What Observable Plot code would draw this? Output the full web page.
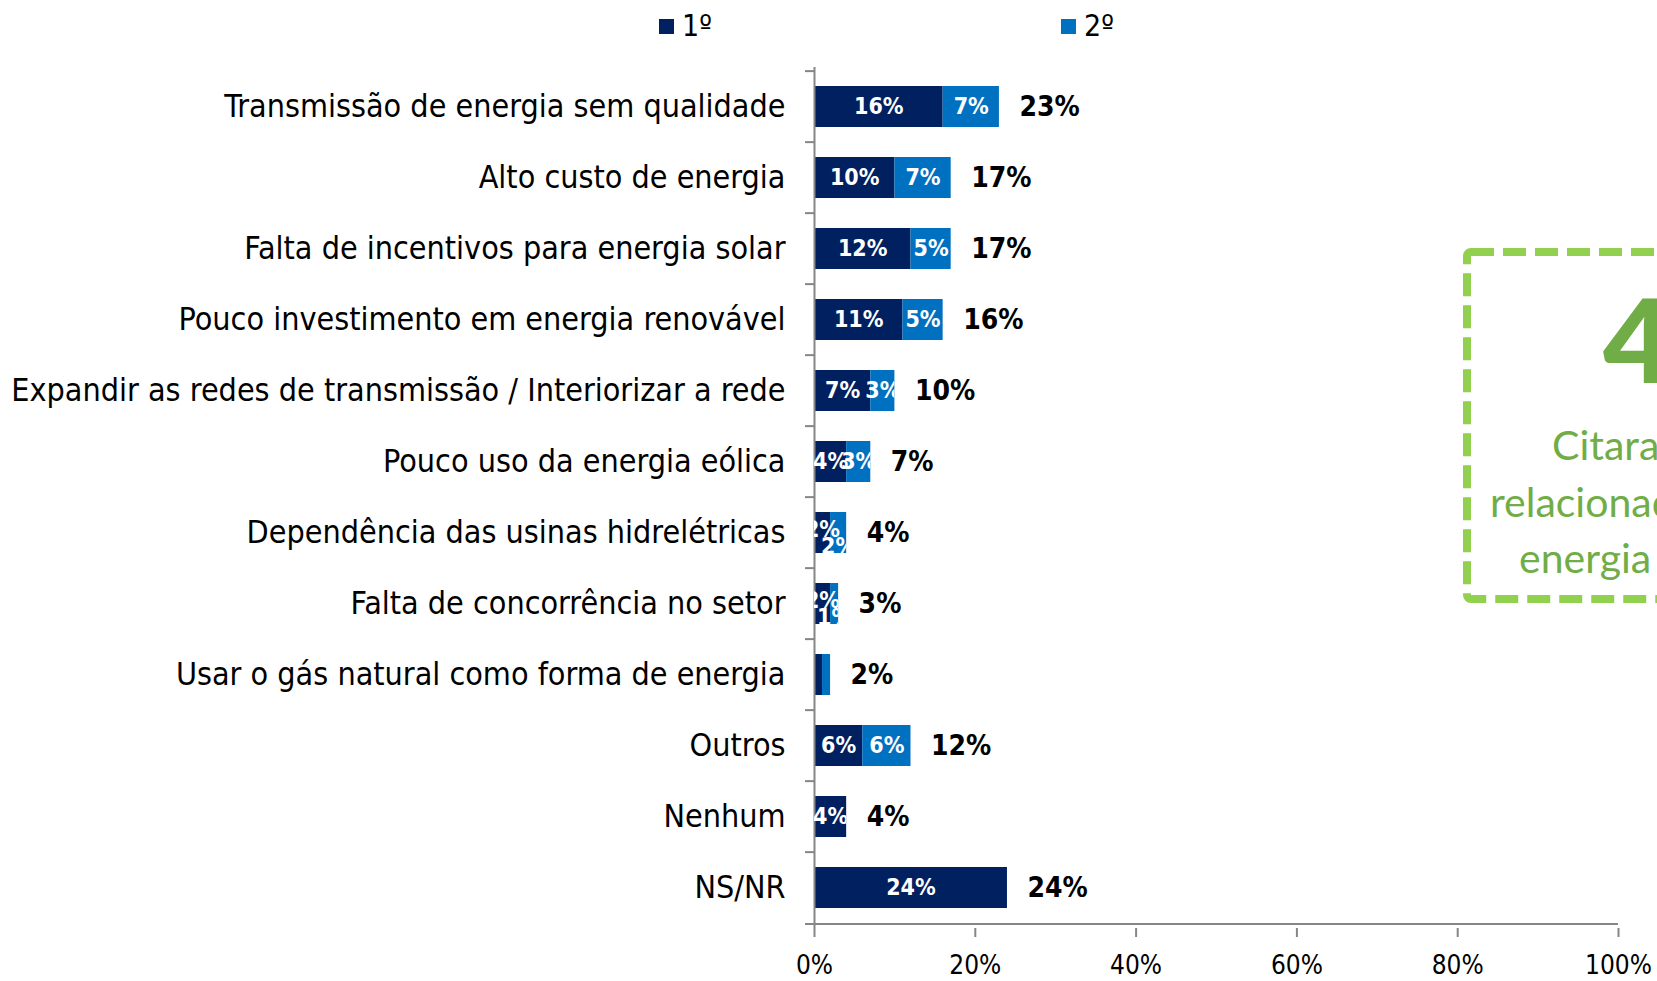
<!DOCTYPE html>
<html>
<head>
<meta charset="utf-8">
<script src="https://cdn.jsdelivr.net/npm/d3@7"></script>
<script src="https://cdn.jsdelivr.net/npm/@observablehq/plot@0.6"></script>
<style>
  html, body { margin: 0; padding: 0; background: #fff; overflow: hidden; }
  #wrap { position: relative; width: 1657px; height: 981px; overflow: hidden; background: #fff; }
  #chart { position: absolute; left: 0; top: 0; }
  #chart svg { font-stretch: condensed !important; }
  .cond { font-family: "DejaVu Sans Condensed", "DejaVu Sans", sans-serif; font-stretch: condensed; }
  #legend .item { position: absolute; top: 11px; height: 30px; font-size: 30px; line-height: 30px; color: #000; display: flex; align-items: center; }
  #legend .sw { width: 15px; height: 15px; margin-right: 8px; }
  #box { position: absolute; left: 0; top: 0; pointer-events: none; }
  g[aria-label="x-axis tick"] { stroke: #868686; stroke-width: 2px; }
  g[aria-label="x-axis"] .tick line { stroke: #868686; stroke-width: 2px; }
  g[aria-label="x-axis tick label"], g[aria-label="x-axis"] text { font-size: 26px; fill: #000; }
  g[aria-label="y-axis tick label"], g[aria-label="y-axis"] text { font-size: 32px; fill: #000; }
</style>
</head>
<body>
<div id="wrap">
  <div id="chart"></div>
  <div id="legend" class="cond"></div>
  <svg id="box" width="1657" height="981" xmlns="http://www.w3.org/2000/svg">
    <rect x="1467" y="252" width="400" height="347" rx="4" ry="4" fill="none" stroke="#92D050" stroke-width="8" stroke-dasharray="23 9"></rect>
    <text x="1603" y="383" fill="#70AD47" font-family="Lato, 'Open Sans', sans-serif" font-weight="900" font-size="116">4</text>
    <text x="1552" y="460" fill="#70AD47" font-family="Lato, 'Open Sans', sans-serif" font-size="41">Citaram</text>
    <text x="1490" y="517" fill="#70AD47" font-family="Lato, 'Open Sans', sans-serif" font-size="41">relacionados</text>
    <text x="1519" y="573" fill="#70AD47" font-family="Lato, 'Open Sans', sans-serif" font-size="41">energia</text>
  </svg>
</div>
<script>
// ---- data ----
const categories = [
  "Transmissão de energia sem qualidade",
  "Alto custo de energia",
  "Falta de incentivos para energia solar",
  "Pouco investimento em energia renovável",
  "Expandir as redes de transmissão / Interiorizar a rede",
  "Pouco uso da energia eólica",
  "Dependência das usinas hidrelétricas",
  "Falta de concorrência no setor",
  "Usar o gás natural como forma de energia",
  "Outros",
  "Nenhum",
  "NS/NR"
];
const firstPct  = [16, 10, 12, 11, 7, 4, 2, 2, 1, 6, 4, 24];
const secondPct = [7, 7, 5, 5, 3, 3, 2, 1, 1, 6, 0, 0];
const totalPct  = [23, 17, 17, 16, 10, 7, 4, 3, 2, 12, 4, 24];
const seriesNames = ["1º", "2º"];
const seriesColors = ["#002060", "#0070C0"];
const xTicks = [0, 20, 40, 60, 80, 100];

// ---- layout ----
const W = 1657, H = 981;
const mTop = 67, mBottom = 53, mLeft = 814, mRight = 39;
const step = (H - mTop - mBottom) / categories.length;
const pxPerUnit = (W - mLeft - mRight) / 100;
const tickLen = 9 / pxPerUnit;
const FONT = '"DejaVu Sans Condensed", "DejaVu Sans", sans-serif';
const GRAY = "#868686";

// ---- long-format table built from the arrays ----
const segs = [];
categories.forEach((c, i) => {
  segs.push({category: c, row: i, series: seriesNames[0], value: firstPct[i], start: 0, end: firstPct[i], mid: firstPct[i] / 2});
  segs.push({category: c, row: i, series: seriesNames[1], value: secondPct[i], start: firstPct[i], end: firstPct[i] + secondPct[i], mid: firstPct[i] + secondPct[i] / 2});
});
const rows = categories.map((c, i) => ({category: c, row: i, total: totalPct[i]}));

const visible = d => d.value > 0 && totalPct[d.row] >= 3;
const narrow = d => firstPct[d.row] < 3 && secondPct[d.row] < 3 && secondPct[d.row] > 0;
const labA = segs.filter(d => visible(d) && !narrow(d));
const labB = segs.filter(d => visible(d) && narrow(d) && d.series === seriesNames[0]);
const labC = segs.filter(d => visible(d) && narrow(d) && d.series === seriesNames[1]);

const innerOpts = {x: "mid", y: "category", text: d => d.value + "%", fill: "white", fontWeight: "bold", fontSize: 23, fontFamily: FONT};

const plot = Plot.plot({
  width: W, height: H,
  marginTop: mTop, marginBottom: mBottom, marginLeft: mLeft, marginRight: mRight,
  style: {fontFamily: FONT, fontSize: "32px", color: "#000", background: "transparent", overflow: "visible"},
  x: {domain: [0, 100], ticks: xTicks, tickFormat: d => d + "%", tickSize: 9, tickPadding: 18, label: null},
  y: {domain: categories, paddingInner: 0.42, paddingOuter: 0.21, tickSize: 0, tickPadding: 29, label: null},
  color: {domain: seriesNames, range: seriesColors},
  marks: [
    Plot.barX(segs, {x1: "start", x2: "end", y: "category", fill: "series"}),
    Plot.ruleX([0], {stroke: GRAY, strokeWidth: 2}),
    Plot.ruleY(categories, {y: d => d, x1: -tickLen, x2: 0, dy: -step / 2, stroke: GRAY, strokeWidth: 2}),
    Plot.ruleY([categories[categories.length - 1]], {y: d => d, x1: -tickLen, x2: 100, dy: step / 2, stroke: GRAY, strokeWidth: 2}),
    Plot.text(labA, {...innerOpts, ariaDescription: "inner-a"}),
    Plot.text(labB, {...innerOpts, dy: -3, ariaDescription: "inner-b"}),
    Plot.text(labC, {...innerOpts, dy: 14, ariaDescription: "inner-c"}),
    Plot.text(rows, {x: "total", y: "category", text: d => d.total + "%", dx: 20, textAnchor: "start", fontWeight: "bold", fontSize: 28, fill: "#000", fontFamily: FONT})
  ]
});
document.getElementById("chart").appendChild(plot);

// ---- clip the in-bar labels to their bar, like the original ----
(function () {
  const ns = "http://www.w3.org/2000/svg";
  const sx = plot.scale("x"), sy = plot.scale("y");
  const defs = document.createElementNS(ns, "defs");
  plot.insertBefore(defs, plot.firstChild);
  let n = 0;
  [["inner-a", labA], ["inner-b", labB], ["inner-c", labC]].forEach(([key, items]) => {
    const g = plot.querySelector(`g[aria-description="${key}"]`);
    if (!g) return;
    const m = g.getCTM();
    const texts = Array.from(g.querySelectorAll("text"));
    texts.forEach((t, k) => {
      const d = items[k];
      if (!d) return;
      const x0 = sx.apply(0), x1 = sx.apply(totalPct[d.row]);
      const y0 = sy.apply(categories[d.row]);
      const id = "cliprow" + (n++);
      const cp = document.createElementNS(ns, "clipPath");
      cp.setAttribute("id", id);
      const r = document.createElementNS(ns, "rect");
      r.setAttribute("x", x0 - (m ? m.e : 0));
      r.setAttribute("y", y0 - (m ? m.f : 0));
      r.setAttribute("width", x1 - x0);
      r.setAttribute("height", sy.bandwidth);
      cp.appendChild(r);
      defs.appendChild(cp);
      const wrap = document.createElementNS(ns, "g");
      wrap.setAttribute("clip-path", `url(#${id})`);
      t.parentNode.insertBefore(wrap, t);
      wrap.appendChild(t);
    });
  });
})();

// ---- legend ----
const legendX = [659, 1061];
const legend = document.getElementById("legend");
seriesNames.forEach((s, i) => {
  const item = document.createElement("div");
  item.className = "item";
  item.style.left = legendX[i] + "px";
  const sw = document.createElement("span");
  sw.className = "sw";
  sw.style.background = seriesColors[i];
  const tx = document.createElement("span");
  tx.textContent = s;
  item.appendChild(sw);
  item.appendChild(tx);
  legend.appendChild(item);
});
</script>
</body>
</html>
